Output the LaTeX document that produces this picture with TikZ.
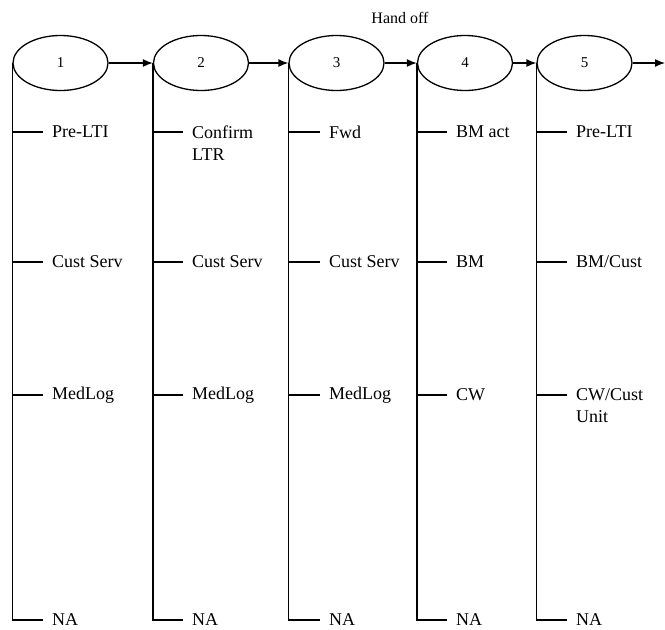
\documentclass[tikz,border=0pt]{standalone}
\usepackage{fontspec}
\setmainfont{Liberation Serif}
\usetikzlibrary{shapes.geometric,arrows.meta}
\begin{document}
\begin{tikzpicture}[x=1pt,y=-1pt,
  stage/.style={draw,ellipse,line width=1.3pt,minimum width=95pt,minimum height=55pt,inner sep=0pt,font=\fontsize{15}{18}\selectfont},
  flow/.style={line width=1.3pt,-{Latex[length=10pt,width=8pt]}},
  lane/.style={line width=1.3pt},
  lbl/.style={anchor=west,inner xsep=9pt,inner ysep=0pt,align=left,font=\fontsize{18}{22}\selectfont}]
\useasboundingbox (0,0) rectangle (665,630);
\node[stage] (e1) at (60.5,63) {1};
\node[stage] (e2) at (201,63) {2};
\node[stage] (e3) at (336.5,63) {3};
\node[stage] (e4) at (465,63) {4};
\node[stage] (e5) at (584.5,63) {5};
\coordinate (end) at (665,63);
\node[font=\fontsize{16}{19}\selectfont] (hand) at (400,18) {Hand off};
\draw[flow] (e1) -- (e2);
\draw[flow] (e2) -- (e3);
\draw[flow] (e3) -- (e4);
\draw[flow] (e4) -- (e5);
\draw[flow] (e5) -- (end);
% column 1
\node[lbl] (a1) at (43,132) {Pre-LTI};
\node[lbl] (a2) at (43,262) {Cust Serv};
\node[lbl] (a3) at (43,395) {MedLog};
\node[lbl] (a4) at (43,620) {NA};
% column 2
\node[lbl] (b1) at (183,143) {Confirm\\LTR};
\node[lbl] (b2) at (183,262) {Cust Serv};
\node[lbl] (b3) at (183,395) {MedLog};
\node[lbl] (b4) at (183,620) {NA};
% column 3
\node[lbl] (c1) at (320,132) {Fwd};
\node[lbl] (c2) at (320,262) {Cust Serv};
\node[lbl] (c3) at (320,395) {MedLog};
\node[lbl] (c4) at (320,620) {NA};
% column 4
\node[lbl] (d1) at (447,132) {BM act};
\node[lbl] (d2) at (447,262) {BM};
\node[lbl] (d3) at (447,395) {CW};
\node[lbl] (d4) at (447,620) {NA};
% column 5
\node[lbl] (f1) at (567,132) {Pre-LTI};
\node[lbl] (f2) at (567,262) {BM/Cust};
\node[lbl] (f3) at (567,406) {CW/Cust\\Unit};
\node[lbl] (f4) at (567,620) {NA};
% lanes
\draw[lane] (e1.west) |- (a4.west);
\draw[lane] (e1.west |- a1.west) -- (a1.west);
\draw[lane] (e1.west |- a2.west) -- (a2.west);
\draw[lane] (e1.west |- a3.west) -- (a3.west);
\draw[lane] (e2.west) |- (b4.west);
\draw[lane] (e2.west |- 0,132) -- (b1.west |- 0,132);
\draw[lane] (e2.west |- b2.west) -- (b2.west);
\draw[lane] (e2.west |- b3.west) -- (b3.west);
\draw[lane] (e3.west) |- (c4.west);
\draw[lane] (e3.west |- c1.west) -- (c1.west);
\draw[lane] (e3.west |- c2.west) -- (c2.west);
\draw[lane] (e3.west |- c3.west) -- (c3.west);
\draw[lane] (e4.west) |- (d4.west);
\draw[lane] (e4.west |- d1.west) -- (d1.west);
\draw[lane] (e4.west |- d2.west) -- (d2.west);
\draw[lane] (e4.west |- d3.west) -- (d3.west);
\draw[lane] (e5.west) |- (f4.west);
\draw[lane] (e5.west |- f1.west) -- (f1.west);
\draw[lane] (e5.west |- f2.west) -- (f2.west);
\draw[lane] (e5.west |- 0,395) -- (f3.west |- 0,395);
\end{tikzpicture}
\end{document}
